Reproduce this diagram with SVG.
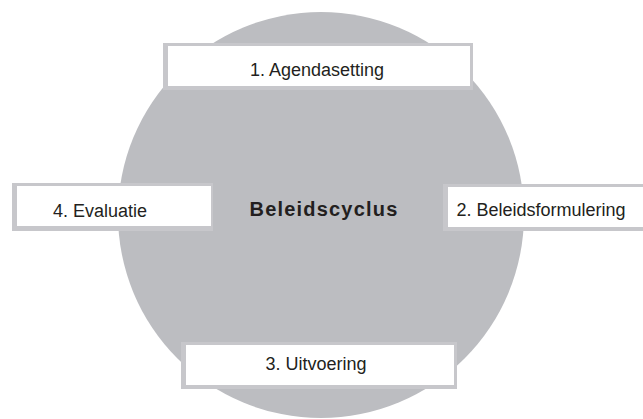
<svg xmlns="http://www.w3.org/2000/svg" width="643" height="419" viewBox="0 0 643 419">
<style>
.frame{fill:#c7c7cb}
.box{fill:#ffffff}
.lbl{font-family:"Liberation Sans",Arial,sans-serif;font-size:18px;fill:#231f20;text-anchor:middle}
.title{font-family:"Liberation Sans",Arial,sans-serif;font-size:20px;font-weight:bold;fill:#231f20;text-anchor:middle;letter-spacing:1.2px}
</style>
<rect width="643" height="419" fill="#ffffff"/>
<g id="cycle">
<circle cx="321" cy="215" r="203" fill="#bcbdc1"/>
<text class="title" x="324" y="216">Beleidscyclus</text>
</g>
<g id="agendasetting">
<rect class="frame" x="163" y="43" width="310" height="47"/>
<rect class="box" x="168" y="46" width="302" height="40"/>
<text class="lbl" x="317" y="76">1. Agendasetting</text>
</g>
<g id="beleidsformulering">
<rect class="frame" x="443" y="184" width="200" height="47"/>
<rect class="box" x="448" y="187" width="195" height="40"/>
<text class="lbl" x="541" y="216">2. Beleidsformulering</text>
</g>
<g id="uitvoering">
<rect class="frame" x="181" y="342" width="276" height="47"/>
<rect class="box" x="186" y="345" width="268" height="40"/>
<text class="lbl" x="316" y="370">3. Uitvoering</text>
</g>
<g id="evaluatie">
<rect class="frame" x="12" y="183" width="201" height="48"/>
<rect class="box" x="17" y="186" width="194" height="40"/>
<text class="lbl" x="100" y="217">4. Evaluatie</text>
</g>
<g id="connectors"></g>
</svg>
